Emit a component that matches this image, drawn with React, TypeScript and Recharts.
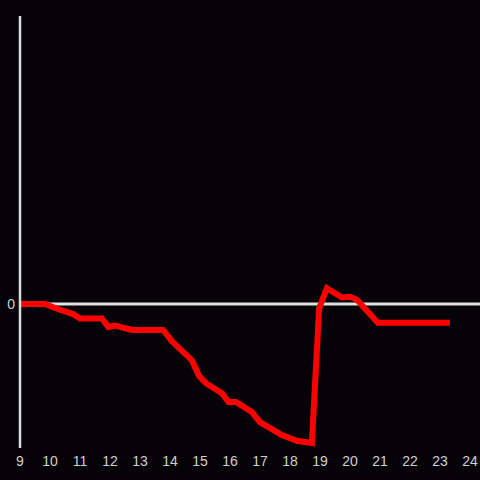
import React from 'react';
import { LineChart, Line, XAxis, YAxis, ReferenceLine } from 'recharts';

const hours = [9, 9.83, 10.33, 10.77, 11, 11.73, 11.95, 12.17, 12.73, 13.77, 14.07, 14.73, 14.97, 15.2, 15.73, 15.95, 16.2, 16.73, 17, 17.73, 18.23, 18.73, 18.97, 19.23, 19.73, 20, 20.23, 20.93, 23.33];
const values = [0, 0, -0.04, -0.07, -0.1, -0.1, -0.16, -0.15, -0.18, -0.18, -0.26, -0.39, -0.5, -0.55, -0.62, -0.68, -0.68, -0.75, -0.82, -0.91, -0.95, -0.965, -0.03, 0.11, 0.045, 0.05, 0.03, -0.13, -0.13];
const xTicks = [9, 10, 11, 12, 13, 14, 15, 16, 17, 18, 19, 20, 21, 22, 23, 24];
const yTicks = [0];

const data = hours.map((h, i) => ({ h, v: values[i] }));

export default function App() {
  return (
    <div style={{ position: 'absolute', left: 0, top: 0, width: 480, height: 480, background: '#050307' }}>
      <LineChart width={480} height={480} data={data} margin={{ top: 16, right: 0, bottom: 0, left: 0 }}>
        <XAxis
          dataKey="h"
          type="number"
          domain={[9, 24.3333]}
          ticks={xTicks}
          axisLine={false}
          tickLine={false}
          height={32}
          interval={0}
          tick={{ fill: '#d0d0d0', fontSize: 14, fontFamily: 'Liberation Sans, Arial, sans-serif' }}
        />
        <YAxis
          type="number"
          domain={[-1, 2]}
          ticks={yTicks}
          width={20}
          axisLine={{ stroke: '#dcdcdc', strokeWidth: 2.5 }}
          tickLine={false}
          tickSize={3}
          tickMargin={2}
          tick={{ fill: '#d0d0d0', fontSize: 14, fontFamily: 'Liberation Sans, Arial, sans-serif' }}
        />
        <ReferenceLine y={0} stroke="#e0e0e0" strokeWidth={3} />
        <Line
          dataKey="v"
          type="linear"
          stroke="#ff0000"
          strokeWidth={6}
          dot={false}
          isAnimationActive={false}
        />
      </LineChart>
    </div>
  );
}
